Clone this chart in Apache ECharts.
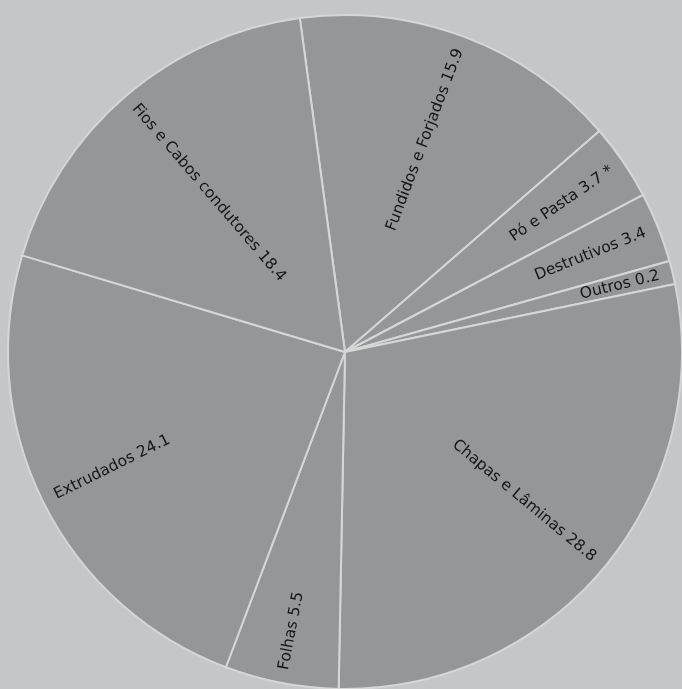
<!DOCTYPE html>
<html><head><meta charset="utf-8">
<script src="https://cdn.jsdelivr.net/npm/echarts@6/dist/echarts.min.js"></script>
<style>html,body{margin:0;padding:0;background:#c5c6c8;}#c{width:682px;height:689px;}</style>
</head><body><div id="c"></div>
<script>
var categories = ["Fundidos e Forjados", "Pó e Pasta", "Destrutivos", "Outros", "Chapas e Lâminas", "Folhas", "Extrudados", "Fios e Cabos condutores"];
var values = [15.9, 3.7, 3.4, 0.2, 28.8, 5.5, 24.1, 18.4];
var valueLabels = ["15.9", "3.7", "3.4", "0.2", "28.8", "5.5", "24.1", "18.4"];
var suffixes = ["", " *", "", "", "", "", "", ""];

var START = 97.7; // degrees, ECharts convention
var total = values.reduce(function(a,b){return a+b;},0);
function side(i){
  var cum = 0; for (var k=0;k<i;k++) cum += values[k];
  var mid = (90 - START) + (cum + values[i]/2)/total*360; // clockwise from north
  mid = ((mid % 360) + 360) % 360;
  return (mid > 0 && mid < 180) ? 'r' : 'l';
}
var data = categories.map(function(n,i){ return {name:n, value:values[i]}; });
var chart = echarts.init(document.getElementById('c'));
chart.setOption({
  backgroundColor: '#c5c6c8',
  animation: false,
  series: [{
    type: 'pie',
    center: [345, 352],
    radius: [0, 337],
    startAngle: START,
    clockwise: true,
    minAngle: 4,
    avoidLabelOverlap: false,
    itemStyle: { color: '#949698', borderColor: '#d6d6d6', borderWidth: 2 },
    label: {
      show: true,
      position: 'inside',
      rotate: 'radial',
      width: 304,
      formatter: function(p){
        var s = side(p.dataIndex);
        return '{' + s + '|' + categories[p.dataIndex] + ' ' + valueLabels[p.dataIndex] + suffixes[p.dataIndex] + '}';
      },
      rich: {
        r: { align: 'right', fontFamily: 'DejaVu Sans', fontSize: 15.5, color: '#161616' },
        l: { align: 'left', fontFamily: 'DejaVu Sans', fontSize: 15.5, color: '#161616' }
      }
    },
    labelLine: { show: false },
    emphasis: { disabled: true },
    data: data
  }]
});
</script></body></html>
